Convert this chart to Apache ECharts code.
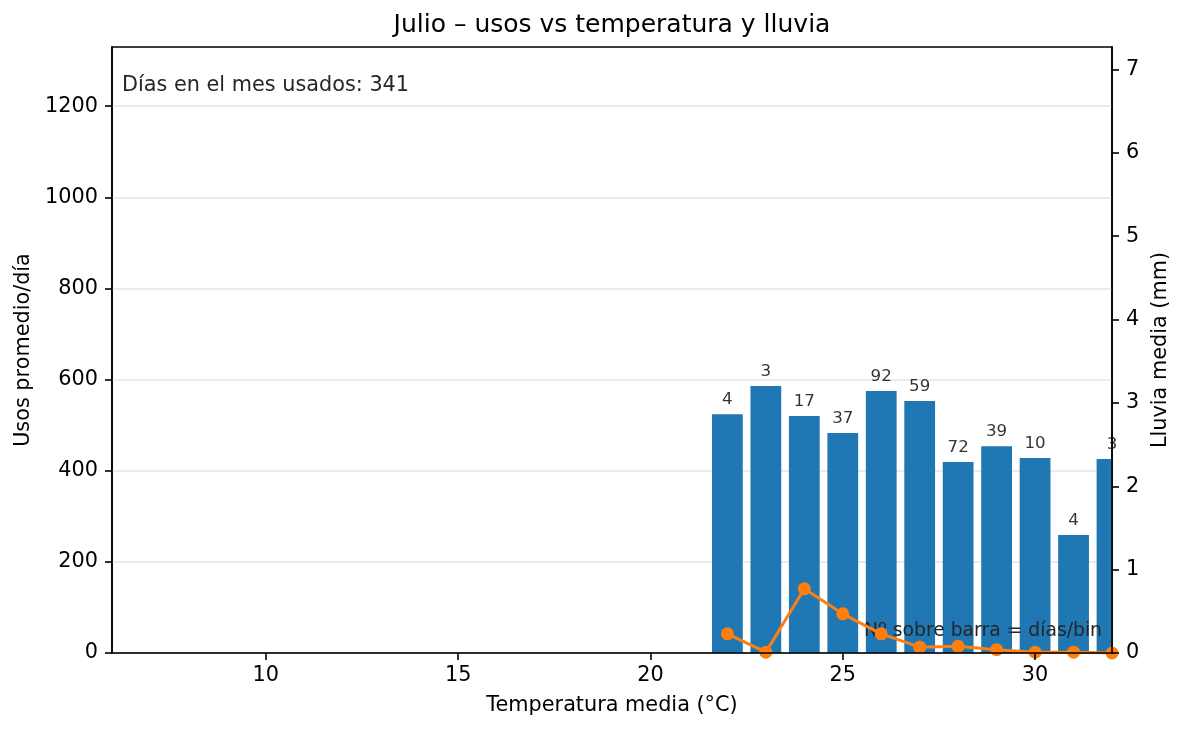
<!DOCTYPE html>
<html>
<head>
<meta charset="utf-8">
<title>Julio – usos vs temperatura y lluvia</title>
<script src="https://cdn.jsdelivr.net/npm/echarts@6/dist/echarts.min.js"></script>
<style>
  body { margin: 0; background: #ffffff; }
  #chart { width: 1183px; height: 731px; }
</style>
</head>
<body>
<div id="chart"></div>
<script>
// datos
const temps = [22, 23, 24, 25, 26, 27, 28, 29, 30, 31, 32];          // temperatura media (°C)
const usos = [524, 586, 520, 483, 575, 553, 419, 454, 428, 259, 426]; // usos promedio/día
const dias = [4, 3, 17, 37, 92, 59, 72, 39, 10, 4, 3];                // días por bin
const lluvia = [0.23, 0.01, 0.77, 0.47, 0.23, 0.07, 0.08, 0.04, 0.01, 0.01, 0.0]; // mm
const xTicks = [10, 15, 20, 25, 30];
const usosTicks = [0, 200, 400, 600, 800, 1000, 1200];
const lluviaTicks = [0, 1, 2, 3, 4, 5, 6, 7];
const diasUsados = 341;

const font = 'DejaVu Sans';
const barAncho = 0.8; // ancho de barra en °C

let chart = echarts.init(document.getElementById('chart'));

let barData = temps.map((t, i) => [t, usos[i]]);
let labelData = temps.map((t, i) => ({ value: [t, usos[i]], label: { formatter: String(dias[i]) } }));
let rainData = temps.map((t, i) => [t, lluvia[i]]);

let axisLine = { show: true, lineStyle: { color: '#000', width: 1.6 } };
let tickStyle = { color: '#000', width: 1.6 };

// barras como serie custom para que se recorten en el borde del eje
function renderBar(params, api) {
  let x = api.value(0);
  let top = api.coord([x, api.value(1)]);
  let base = api.coord([x, 0]);
  let w = api.size([barAncho, 0])[0];
  return {
    type: 'rect',
    shape: { x: top[0] - w / 2, y: top[1], width: w, height: base[1] - top[1] },
    style: { fill: '#1f77b4' }
  };
}

let option = {
  animation: false,
  textStyle: { fontFamily: font },
  title: {
    text: 'Julio – usos vs temperatura y lluvia',
    left: 612,
    top: 13,
    padding: 0,
    textAlign: 'center',
    textStyle: { fontFamily: font, fontSize: 25, fontWeight: 'normal', color: '#000' }
  },
  grid: {
    left: 112, right: 71, top: 47, bottom: 78,
    show: true, borderColor: '#000', borderWidth: 1.6, backgroundColor: 'transparent'
  },
  xAxis: {
    type: 'value',
    min: 6,
    max: 32,
    z: 20,
    name: 'Temperatura media (°C)',
    nameLocation: 'middle',
    nameGap: 42,
    nameTextStyle: { fontFamily: font, fontSize: 20.8, color: '#000' },
    axisLine: axisLine,
    axisTick: { show: true, length: 7, lineStyle: tickStyle, customValues: xTicks },
    axisLabel: { fontFamily: font, fontSize: 20.8, color: '#000', margin: 12, customValues: xTicks, formatter: v => String(v) },
    splitLine: { show: false }
  },
  yAxis: [
    {
      type: 'value',
      min: 0,
      max: 1330,
      name: 'Usos promedio/día',
      nameLocation: 'middle',
      nameGap: 77,
      nameTextStyle: { fontFamily: font, fontSize: 20.8, color: '#000' },
      axisLine: axisLine,
      axisTick: { show: true, length: 7, lineStyle: tickStyle, customValues: usosTicks },
      axisLabel: { fontFamily: font, fontSize: 20.8, color: '#000', margin: 14, customValues: usosTicks, formatter: v => String(v) },
      splitLine: { show: true, lineStyle: { color: '#e5e5e5', width: 1.5 } }
    },
    {
      type: 'value',
      position: 'right',
      min: 0,
      max: 7.27,
      z: 20,
      name: 'Lluvia media (mm)',
      nameLocation: 'middle',
      nameGap: 36,
      nameTextStyle: { fontFamily: font, fontSize: 20.8, color: '#000' },
      axisLine: axisLine,
      axisTick: { show: true, length: 7, lineStyle: tickStyle, customValues: lluviaTicks },
      axisLabel: { fontFamily: font, fontSize: 20.8, color: '#000', margin: 14, customValues: lluviaTicks, formatter: v => String(v) },
      splitLine: { show: false }
    }
  ],
  graphic: [
    {
      type: 'text', x: 122, y: 86, z: 5,
      style: { text: 'Días en el mes usados: ' + diasUsados, fontFamily: font, fontSize: 20.8, fill: '#262626', verticalAlign: 'middle' }
    },
    {
      type: 'text', x: 1102, y: 631, z: 5,
      style: { text: 'Nº sobre barra = días/bin', fontFamily: font, fontSize: 18.75, fill: '#262626', align: 'right', verticalAlign: 'middle' }
    }
  ],
  series: [
    {
      type: 'custom',
      data: barData,
      yAxisIndex: 0,
      renderItem: renderBar,
      clip: true,
      encode: { x: 0, y: 1 },
      z: 1
    },
    {
      // etiquetas: nº de días encima de cada barra
      type: 'scatter',
      data: labelData,
      yAxisIndex: 0,
      symbolSize: 0,
      clip: false,
      silent: true,
      label: { show: true, position: 'top', distance: 6, fontFamily: font, fontSize: 16.7, color: '#000', textBorderWidth: 0 },
      z: 3
    },
    {
      type: 'line',
      data: rainData,
      yAxisIndex: 1,
      symbol: 'circle',
      symbolSize: 13,
      lineStyle: { color: '#ff7f0e', width: 3 },
      itemStyle: { color: '#ff7f0e' },
      z: 10
    }
  ]
};

chart.setOption(option);
</script>
</body>
</html>
